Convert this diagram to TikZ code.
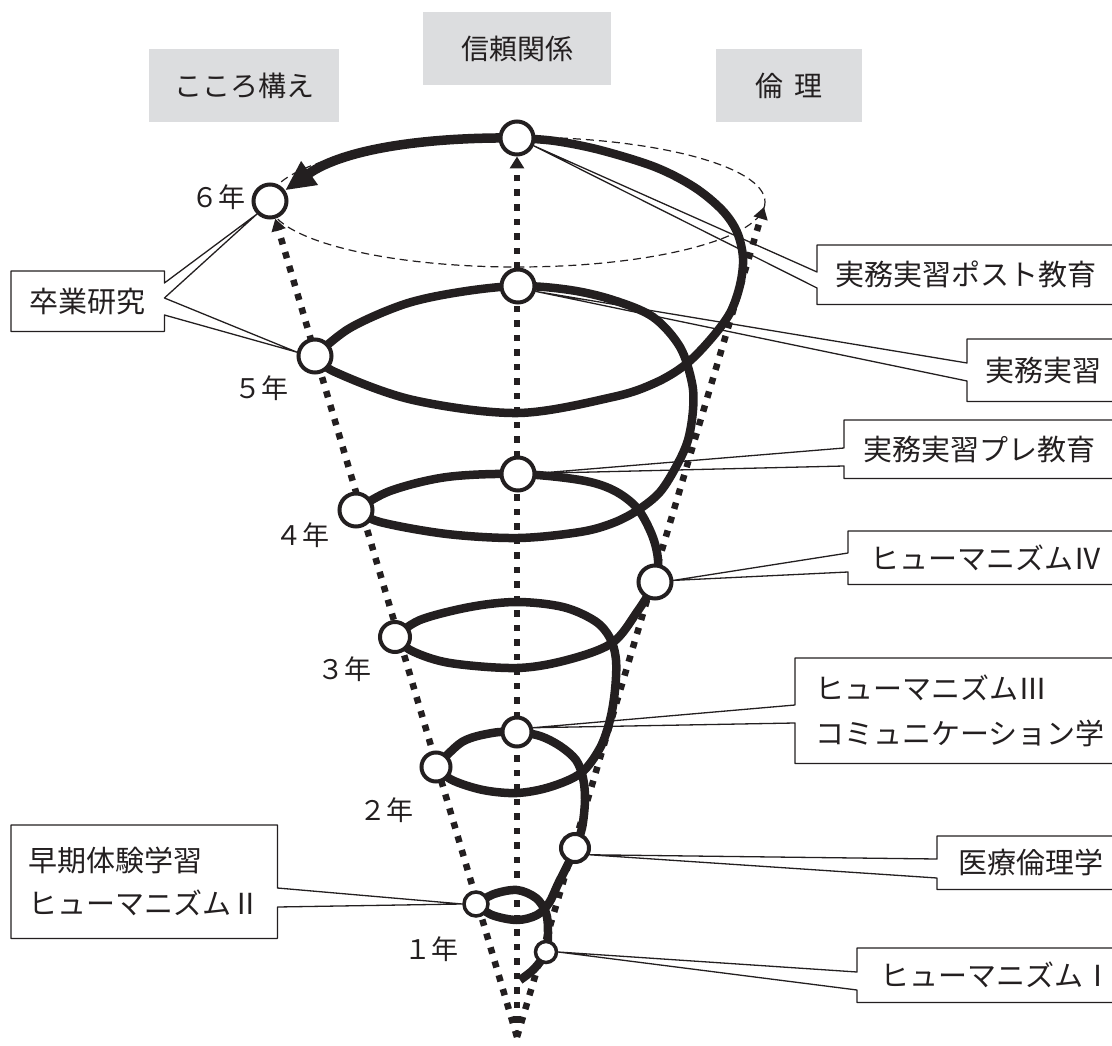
\documentclass[tikz,border=0pt]{standalone}
\usepackage{fontspec}
\setmainfont{Noto Sans CJK JP}
\usetikzlibrary{arrows.meta}
\definecolor{ink}{RGB}{35,31,32}
\definecolor{boxgray}{RGB}{220,221,223}
\pgfdeclarelayer{background}
\pgfsetlayers{background,main}
\newcommand\lblsize{\fontsize{29}{45}\selectfont}
\newcommand\yrsize{\fontsize{27}{30}\selectfont}
\newcommand\grsize{\fontsize{28}{32}\selectfont}
\begin{document}
\begin{tikzpicture}[x=1pt,y=-1pt,
  ynode/.style={circle, draw=ink, line width=4pt, fill=white, inner sep=0pt},
  spiral/.style={draw=ink, line width=8.5pt, line join=round},
  dotline/.style={draw=ink, line width=6.5pt, dash pattern=on 6.5pt off 8pt, -{Triangle[length=12pt,width=14pt]}},
  arrowline/.style={draw=ink, line width=9.5pt, -{Triangle[length=30pt,width=27pt]}},
  ell/.style={draw=ink, line width=1.2pt, dash pattern=on 8pt off 5pt},
  cbox/.style={inner ysep=0pt, align=left, anchor=north west, font=\lblsize, text=ink, fill=white},
  outl/.style={draw=ink, line width=1.3pt, line join=round},
  gbox/.style={fill=boxgray, font=\grsize, text=ink, inner sep=0pt},
  yr/.style={font=\yrsize, text=ink, inner sep=0pt}
]
\path[use as bounding box] (0,0) rectangle (1112,1046);
\clip (0,0) rectangle (1112,1046);

% gray headings
\node[gbox, minimum width=190pt, minimum height=73pt] (gkokoro) at (244,85.5) {こころ構え};
\node[gbox, minimum width=188pt, minimum height=73pt] (gshinrai) at (517,48.5) {信頼関係};
\node[gbox, minimum width=146pt, minimum height=73pt] (grinri) at (789,85.5) {倫\hspace{0.4em}理};

% coordinates
\coordinate (apex) at (517,1037);
\coordinate (rtip) at (764,207);

% nodes on the spiral
\node[ynode, minimum size=33pt] (ntop) at (517,138) {};
\node[ynode, minimum size=33pt] (n6) at (270,201) {};
\node[ynode, minimum size=33pt] (n5c) at (518,286) {};
\node[ynode, minimum size=33pt] (n5l) at (315,356) {};
\node[ynode, minimum size=33pt] (n4c) at (518,474) {};
\node[ynode, minimum size=33pt] (n4l) at (356,510) {};
\node[ynode, minimum size=33pt] (n4r) at (655,582) {};
\node[ynode, minimum size=30pt] (n3l) at (395,637) {};
\node[ynode, minimum size=29pt] (n2c) at (517,732) {};
\node[ynode, minimum size=29pt] (n2l) at (436,767) {};
\node[ynode, minimum size=28pt] (nmed) at (575,848) {};
\node[ynode, minimum size=24pt, line width=3.5pt] (n1l) at (476,904) {};
\node[ynode, minimum size=21pt, line width=3.5pt] (n1r) at (546,952) {};

\begin{pgfonlayer}{background}
  \draw[ell] (517,202) ellipse [x radius=248, y radius=65];
  \draw[dotline] (apex) -- (n6);
  \draw[dotline] (apex) -- (ntop);
  \draw[dotline] (apex) -- (rtip);
  % spiral
  \draw[spiral] plot[smooth, tension=0.55] coordinates {(520,980) (534,969) (546,952) (548,932) (546,913) (536,898) (517,890) (494,894) (476,904)};
  \draw[spiral] plot[smooth, tension=0.55] coordinates {(476,904) (492,915) (517,920) (537,915) (549,903) (558,884) (569,862) (575,848) (582,828) (585,800) (583,778) (576,760) (560,746) (540,736) (517,732) (492,733) (462,742) (436,767)};
  \draw[spiral] plot[smooth, tension=0.55] coordinates {(436,767) (452,780) (483,790) (517,793) (550,787) (581,773) (600,748) (610,720) (615,690) (616,660) (610,638) (595,621) (563,607) (517,602) (470,607) (420,620) (395,637)};
  \draw[spiral] plot[smooth, tension=0.55] coordinates {(395,637) (412,651) (450,663) (517,668) (567,660) (612,643) (637,612) (655,582) (658,560) (652,535) (637,508) (613,490) (580,480) (518,474) (447,477) (390,491) (356,510)};
  \draw[spiral] plot[smooth, tension=0.55] coordinates {(356,510) (380,522) (447,534) (518,538) (580,532) (613,523) (638,510) (660,492) (677,465) (688,440) (693,410) (692,383) (680,347) (653,317) (613,300) (570,290) (518,286) (460,292) (405,304) (350,328) (315,356)};
  \draw[spiral] plot[smooth, tension=0.55] coordinates {(315,356) (335,372) (413,400) (518,413) (613,397) (655,383) (685,365) (710,340) (730,313) (740,285) (743,258) (737,232) (722,210) (694,187) (655,167) (600,150) (555,141) (517,138)};
  \draw[arrowline] (ntop.center) .. controls (430,137) and (345,148) .. (n6);
\end{pgfonlayer}

% year labels
\node[yr] (y6) at (218,197) {６年};
\node[yr] (y5) at (261,388) {５年};
\node[yr] (y4) at (302,535) {４年};
\node[yr] (y3) at (344,669) {３年};
\node[yr] (y2) at (386,810) {２年};
\node[yr] (y1) at (431,949) {１年};

% right callouts
\node[cbox, inner xsep=18pt, text width=297pt, minimum height=59pt] (bpost) at (817,245) {実務実習ポスト教育};
\draw[outl] (bpost.north east) -- (bpost.north west) -- ([yshift=-27pt]bpost.north west) -- (ntop.-25) -- ([yshift=-43pt]bpost.north west) -- (bpost.south west) -- (bpost.south east);

\node[cbox, inner xsep=18pt, text width=147pt, minimum height=62pt] (bjitsu) at (967,339) {実務実習};
\draw[outl] (bjitsu.north east) -- (bjitsu.north west) -- ([yshift=-24pt]bjitsu.north west) -- (n5c.-17) -- ([yshift=-42pt]bjitsu.north west) -- (bjitsu.south west) -- (bjitsu.south east);

\node[cbox, inner xsep=19pt, text width=268pt, minimum height=58pt] (bpre) at (844,420) {実務実習プレ教育};
\draw[outl] (bpre.north east) -- (bpre.north west) -- ([yshift=-28pt]bpre.north west) -- (n4c.2) -- ([yshift=-46pt]bpre.north west) -- (bpre.south west) -- (bpre.south east);

\node[cbox, inner xsep=22pt, text width=258pt, minimum height=53pt] (biv) at (848,531) {ヒューマニズムⅣ};
\draw[outl] (biv.north east) -- (biv.north west) -- ([yshift=-22pt]biv.north west) -- (n4r.5) -- ([yshift=-41pt]biv.north west) -- (biv.south west) -- (biv.south east);

\node[cbox, inner xsep=20pt, text width=315pt, minimum height=105pt] (biii) at (795,658) {ヒューマニズムⅢ\\コミュニケーション学};
\draw[outl] (biii.north east) -- (biii.north west) -- ([yshift=-47pt]biii.north west) -- (n2c.15) -- ([yshift=-65pt]biii.north west) -- (biii.south west) -- (biii.south east);

\node[cbox, inner xsep=21pt, text width=171pt, minimum height=53pt] (bmed) at (937,836) {医療倫理学};
\draw[outl] (bmed.north east) -- (bmed.north west) -- ([yshift=-23pt]bmed.north west) -- (nmed.-25) -- ([yshift=-42pt]bmed.north west) -- (bmed.south west) -- (bmed.south east);

\node[cbox, inner xsep=23pt, text width=247pt, minimum height=54pt] (bi) at (857,948) {ヒューマニズムⅠ};
\draw[outl] (bi.north east) -- (bi.north west) -- ([yshift=-24pt]bi.north west) -- (n1r.0) -- ([yshift=-42pt]bi.north west) -- (bi.south west) -- (bi.south east);

% left callouts
\node[cbox, inner xsep=17pt, text width=232pt, minimum height=113pt, font=\fontsize{29}{43}\selectfont] (bsouki) at (11,825) {早期体験学習\\ヒューマニズムⅡ};
\draw[outl] (bsouki.south east) -- (bsouki.south west) -- (bsouki.north west) -- (bsouki.north east) -- ([yshift=-63pt]bsouki.north east) -- (n1l.180) -- ([yshift=-82pt]bsouki.north east) -- cycle;

\node[cbox, inner xsep=18pt, text width=117pt, align=center, minimum height=60pt] (bsotsu) at (11,271) {卒業研究};
\draw[outl] (bsotsu.south east) -- (bsotsu.south west) -- (bsotsu.north west) -- (bsotsu.north east) -- ([yshift=-12pt]bsotsu.north east) -- (n6.-135) -- ([yshift=-27pt]bsotsu.north east) -- (n5l.168) -- ([yshift=-44pt]bsotsu.north east) -- cycle;
\end{tikzpicture}
\end{document}
